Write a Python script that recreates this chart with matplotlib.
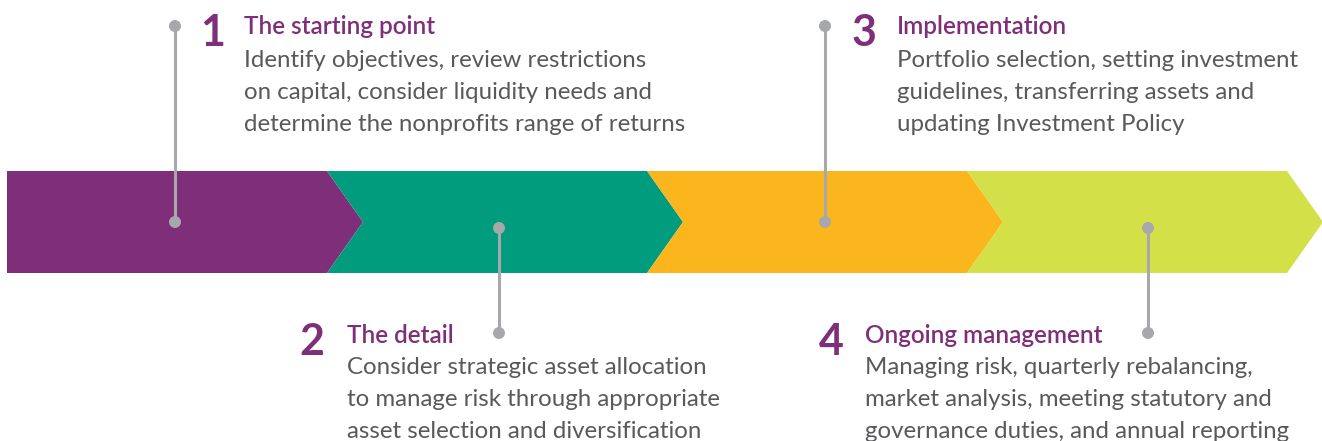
import matplotlib
matplotlib.use("Agg")
import matplotlib.pyplot as plt
from matplotlib.patches import Polygon, Circle

# ---- data ----
step_numbers = ["1", "2", "3", "4"]
step_titles = ["The starting point", "The detail", "Implementation", "Ongoing management"]
step_lines = [
    ["Identify objectives, review restrictions",
     "on capital, consider liquidity needs and",
     "determine the nonprofits range of returns"],
    ["Consider strategic asset allocation",
     "to manage risk through appropriate",
     "asset selection and diversification"],
    ["Portfolio selection, setting investment",
     "guidelines, transferring assets and",
     "updating Investment Policy"],
    ["Managing risk, quarterly rebalancing,",
     "market analysis, meeting statutory and",
     "governance duties, and annual reporting"],
]
band_colors = ["#7F2F79", "#009C7D", "#FBB61E", "#D4E048"]
accent = "#7F2F79"
body_color = "#58595B"
pin_color = "#A7A8AB"

# ---- layout ----
W, H = 1322, 441
fig = plt.figure(figsize=(W / 100, H / 100), dpi=100)
ax = fig.add_axes([0, 0, 1, 1])
ax.set_xlim(0, W)
ax.set_ylim(H, 0)
ax.axis("off")

band_top, band_bot = 171, 273
band_mid = (band_top + band_bot) / 2
seg_start, seg_w, tip = 7, 320, 36

for i, c in enumerate(band_colors):
    x0 = seg_start + i * seg_w
    x1 = x0 + seg_w
    pts = [(x0, band_top), (x1, band_top), (x1 + tip, band_mid),
           (x1, band_bot), (x0, band_bot)]
    if i > 0:
        pts.append((x0 + tip, band_mid))
    ax.add_patch(Polygon(pts, closed=True, facecolor=c, edgecolor="none", zorder=1))

pin_x = [175, 499, 825, 1148]
text_x = [244, 347, 897, 865]
num_x = [225, 324, 876, 844]
font = "Lato"

for i in range(4):
    upper = (i % 2 == 0)
    px = pin_x[i]
    if upper:
        y_a, y_b = 26, 222
        title_base = 34
        body_off = 33
    else:
        y_a, y_b = 228, 333
        title_base = 343
        body_off = 31.5
    ax.plot([px, px], [y_a, y_b], color=pin_color, lw=2.2, zorder=2,
            solid_capstyle="butt")
    for yy in (y_a, y_b):
        ax.add_patch(Circle((px, yy), 6, facecolor=pin_color, edgecolor="none", zorder=3))

    ax.text(num_x[i], title_base + 12, step_numbers[i], ha="right", va="baseline",
            fontsize=31, fontweight="bold", color=accent, family=font)
    ax.text(text_x[i], title_base, step_titles[i], ha="left", va="baseline",
            fontsize=17.5, fontweight="semibold", color=accent, family=font)
    for k, line in enumerate(step_lines[i]):
        ax.text(text_x[i], title_base + body_off + 32 * k, line, ha="left", va="baseline",
                fontsize=17.3, fontweight="normal", color=body_color, family=font)

fig.savefig("out.png", dpi=100, facecolor="white")
